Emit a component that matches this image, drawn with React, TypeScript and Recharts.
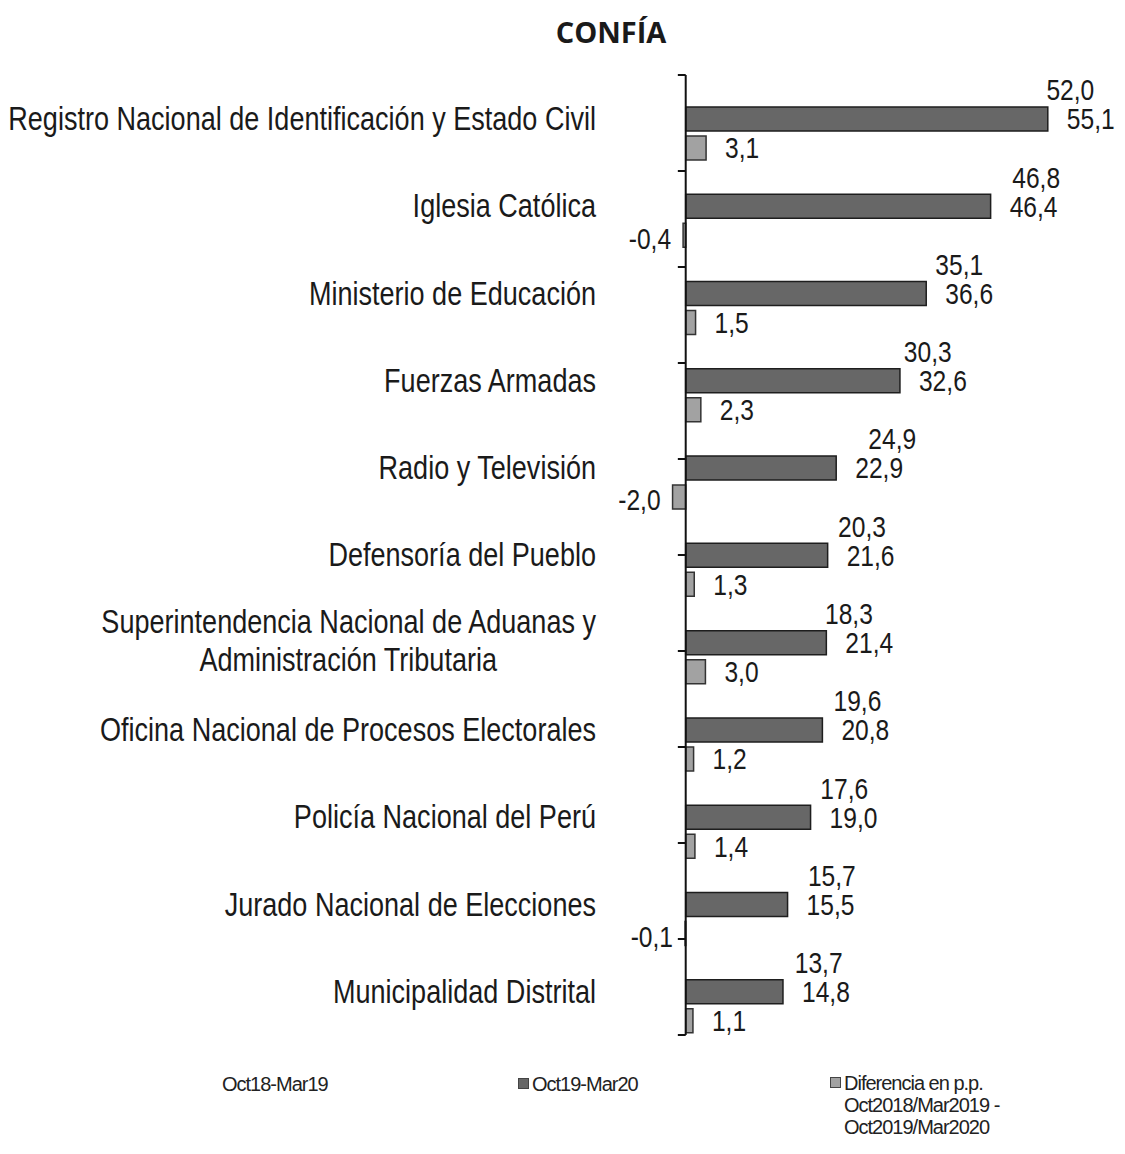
import { BarChart, Bar, XAxis, YAxis, ReferenceLine, LabelList } from "recharts";

const categories = [
  "Registro Nacional de Identificación y Estado Civil",
  "Iglesia Católica",
  "Ministerio de Educación",
  "Fuerzas Armadas",
  "Radio y Televisión",
  "Defensoría del Pueblo",
  "Superintendencia Nacional de Aduanas y\nAdministración Tributaria",
  "Oficina Nacional de Procesos Electorales",
  "Policía Nacional del Perú",
  "Jurado Nacional de Elecciones",
  "Municipalidad Distrital",
];
const oct18 = [52.0, 46.8, 35.1, 30.3, 24.9, 20.3, 18.3, 19.6, 17.6, 15.7, 13.7];
const oct19 = [55.1, 46.4, 36.6, 32.6, 22.9, 21.6, 21.4, 20.8, 19.0, 15.5, 14.8];
const diff = [3.1, -0.4, 1.5, 2.3, -2.0, 1.3, 3.0, 1.2, 1.4, -0.1, 1.1];
const seriesNames = ["Oct18-Mar19", "Oct19-Mar20", "Diferencia en p.p."];
const diffNote = ["Oct2018/Mar2019 -", "Oct2019/Mar2020"];
const edgeTicks = [0, 1, 2, 3, 4, 5, 6, 7, 8, 9, 10, 11];

const data = categories.map((name, i) => ({
  name,
  oct18: oct18[i],
  oct19: oct19[i],
  diff: diff[i],
}));

// no Arial Narrow here, so squeeze Liberation Sans horizontally
const FONT = "'Liberation Sans', Arial, sans-serif";
const NARROW = 0.82;
const DARK = "#676767";
const LIGHT = "#a2a2a2";

const fmt = (v: number) => v.toFixed(1).replace(".", ",");

const NarrowText = ({ x, y, size, anchor, children }: any) => (
  <text
    transform={`translate(${x},${y}) scale(${NARROW},1)`}
    textAnchor={anchor}
    dominantBaseline="central"
    fontFamily={FONT}
    fontSize={size}
    fill="#1a1a1a"
  >
    {children}
  </text>
);

const CategoryTick = (props: any) => {
  const { x, y, payload } = props;
  const lines = String(payload.value).split("\n");
  if (lines.length === 1) {
    return (
      <NarrowText x={x} y={y} size={33} anchor="end">
        {lines[0]}
      </NarrowText>
    );
  }
  return (
    <g>
      <NarrowText x={x} y={y - 21} size={33} anchor="end">
        {lines[0]}
      </NarrowText>
      <NarrowText x={x - 99} y={y + 17} size={33} anchor="end">
        {lines[1]}
      </NarrowText>
    </g>
  );
};

const valueLabel = (props: any) => {
  const { x, y, width, height, value } = props;
  const v = Number(value);
  const left = Math.min(x, x + width);
  const right = Math.max(x, x + width);
  const neg = v < 0;
  return (
    <NarrowText
      x={neg ? left - 12 : right + 19}
      y={y + height / 2 + (neg ? 3 : 0)}
      size={30}
      anchor={neg ? "end" : "start"}
    >
      {fmt(v)}
    </NarrowText>
  );
};

const legendText = {
  position: "absolute" as const,
  fontFamily: FONT,
  fontSize: 20,
  lineHeight: "22px",
  color: "#222",
  letterSpacing: -1,
  whiteSpace: "nowrap" as const,
};
const marker = (color: string) => ({
  display: "inline-block",
  width: 9,
  height: 9,
  background: color,
  border: "1px solid #444",
  marginRight: 3,
  verticalAlign: "middle",
  position: "relative" as const,
  top: -2,
});

export default function App() {
  return (
    <div style={{ position: "absolute", left: 0, top: 0, width: 1125, height: 1154, background: "#fff" }}>
      <div
        style={{
          position: "absolute",
          left: 0,
          top: 12,
          width: 1222,
          textAlign: "center",
          fontFamily: "'Open Sans', sans-serif",
          fontWeight: 700,
          fontSize: 29,
          color: "#1a1a1a",
        }}
      >
        CONFÍA
      </div>
      <BarChart
        width={1125}
        height={1154}
        data={data}
        layout="vertical"
        margin={{ top: 75, right: 45, bottom: 119, left: 0 }}
        barCategoryGap={3}
        barGap={5}
      >
        <XAxis type="number" domain={[-10, 60]} hide />
        <YAxis
          type="category"
          dataKey="name"
          width={620}
          axisLine={false}
          tickLine={false}
          tickSize={0}
          tickMargin={24}
          tick={<CategoryTick />}
          interval={0}
        />
        <YAxis yAxisId="edge" type="number" domain={[0, 11]} reversed hide />
        <Bar dataKey="oct18" name={seriesNames[0]} fill="transparent" isAnimationActive={false}>
          <LabelList dataKey="oct18" content={valueLabel} />
        </Bar>
        <Bar dataKey="oct19" name={seriesNames[1]} fill={DARK} stroke="#1e1e1e" strokeWidth={1.5} isAnimationActive={false}>
          <LabelList dataKey="oct19" content={valueLabel} />
        </Bar>
        <Bar dataKey="diff" name={seriesNames[2]} fill={LIGHT} stroke="#333" strokeWidth={1.5} isAnimationActive={false}>
          <LabelList dataKey="diff" content={valueLabel} />
        </Bar>
        <ReferenceLine x={0} stroke="#111" strokeWidth={2} />
        {edgeTicks.map((t) => (
          <ReferenceLine
            key={t}
            yAxisId="edge"
            segment={[
              { x: -1.2, y: t },
              { x: 0, y: t },
            ]}
            stroke="#111"
            strokeWidth={2}
          />
        ))}
      </BarChart>
      <div style={{ ...legendText, left: 222, top: 1073 }}>{seriesNames[0]}</div>
      <div style={{ ...legendText, left: 518, top: 1073 }}>
        <span style={marker(DARK)} />
        {seriesNames[1]}
      </div>
      <div style={{ ...legendText, left: 830, top: 1072 }}>
        <span style={marker(LIGHT)} />
        {seriesNames[2]}
        {diffNote.map((l) => (
          <div key={l} style={{ paddingLeft: 14 }}>{l}</div>
        ))}
      </div>
    </div>
  );
}
